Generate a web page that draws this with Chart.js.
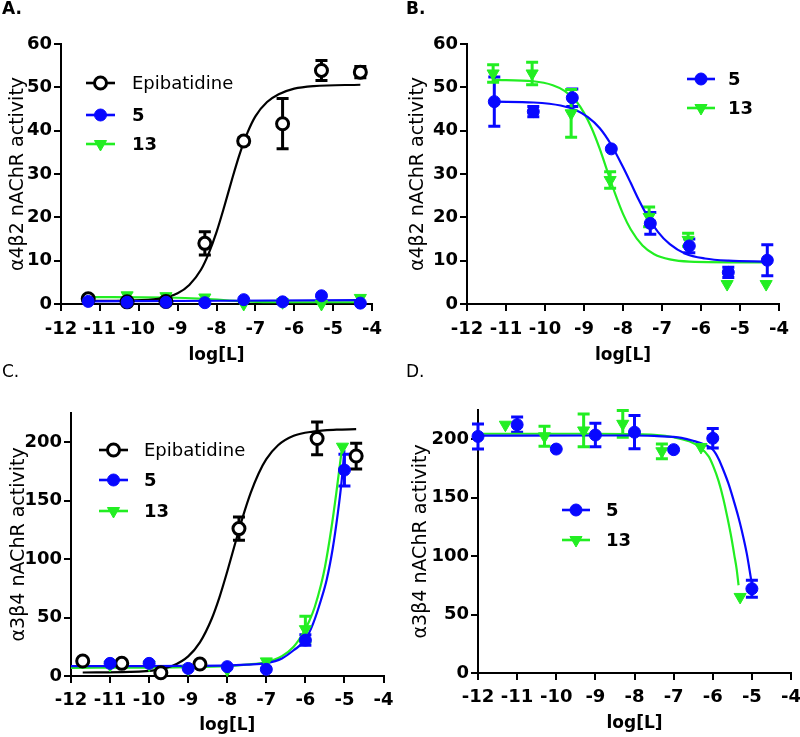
<!DOCTYPE html>
<html>
<head>
<meta charset="utf-8">
<script src="https://cdn.jsdelivr.net/npm/chart.js@4.4.1/dist/chart.umd.min.js"></script>
<style>
html,body{margin:0;padding:0;background:#fff;width:800px;height:737px;overflow:hidden;position:relative;}
canvas{position:absolute;}
</style>
</head>
<body>
<canvas id="cA"></canvas>
<canvas id="cB"></canvas>
<canvas id="cC"></canvas>
<canvas id="cD"></canvas>
<script>
// ---------------- data ----------------
const seriesNames = ['Epibatidine', '5', '13'];
const panelLetters = ['A.', 'B.', 'C.', 'D.'];
const xTickValues = [-12, -11, -10, -9, -8, -7, -6, -5, -4];
const yTitleA = 'α4β2 nAChR activity';
const yTitleC = 'α3β4 nAChR activity';
const xTitle = 'log[L]';

// Panel A (α4β2, agonist)
const A_x = [-11.3, -10.3, -9.3, -8.3, -7.3, -6.3, -5.3, -4.3];
const A_epi = [1.2, 0.5, 0.6, 14.0, 37.6, 41.6, 53.9, 53.5];
const A_epiErr = [0, 0, 0, 2.7, 0.8, 5.8, 2.3, 1.3];
const A_c5 = [0.6, 0.4, 0.4, 0.3, 1.0, 0.5, 1.9, 0.2];
const A_c5Err = [0, 0, 0, 0, 0, 0, 0, 0];
const A_c13 = [1.3, 2.0, 1.8, 1.5, 0.0, 0.4, 0.0, 1.4];
const A_c13Err = [0, 0, 0, 0, 0, 0, 0, 0];
const A_epiFitX = [-11.3, -10.3, -9.5, -9.0, -8.7, -8.4, -8.2, -8.0, -7.8, -7.6, -7.4, -7.2, -7.0, -6.7, -6.4, -6.0, -5.5, -4.3];
const A_epiFitY = [0.7, 0.8, 1.2, 2.5, 4.4, 7.9, 11.7, 16.6, 22.5, 28.8, 34.7, 39.6, 43.3, 46.6, 48.4, 49.7, 50.3, 50.6];
const A_c5FitX = [-11.3, -7.8, -4.3];
const A_c5FitY = [0.6, 0.75, 0.9];
const A_c13FitX = [-11.3, -9.3, -8.3, -7.3, -6.3, -4.3];
const A_c13FitY = [1.6, 1.5, 1.2, 0.6, 0.4, 0.4];

// Panel B (α4β2, antagonist)
const B_x5 = [-11.3, -10.3, -9.3, -8.3, -7.3, -6.3, -5.3, -4.3];
const B_c5 = [46.7, 44.4, 47.6, 35.8, 18.6, 13.4, 7.3, 10.1];
const B_c5Err = [5.7, 1.2, 2.0, 0, 2.5, 1.6, 1.2, 3.6];
const B_x13 = [-11.33, -10.33, -9.33, -8.33, -7.33, -6.33, -5.33, -4.33];
const B_c13 = [53.2, 53.2, 44.0, 28.6, 20.1, 14.8, 4.6, 4.6];
const B_c13Err = [2.0, 2.6, 5.5, 1.9, 2.3, 1.5, 0, 0];
const B_c5FitX = [-11.3, -10.3, -9.6, -9.2, -8.9, -8.6, -8.3, -8.0, -7.8, -7.6, -7.4, -7.1, -6.8, -6.4, -5.9, -5.3, -4.3];
const B_c5FitY = [46.7, 46.5, 45.8, 44.7, 43.1, 40.6, 36.7, 31.6, 27.9, 24.1, 20.7, 16.6, 13.8, 11.6, 10.5, 10.0, 9.8];
const B_c13FitX = [-11.3, -10.3, -9.8, -9.5, -9.2, -9.0, -8.8, -8.6, -8.4, -8.2, -8.0, -7.8, -7.5, -7.2, -6.8, -6.3, -4.3];
const B_c13FitY = [51.7, 51.4, 50.5, 49.2, 46.8, 44.1, 40.5, 35.9, 30.6, 25.4, 20.8, 17.2, 13.5, 11.5, 10.3, 9.8, 9.6];

// Panel C (α3β4, agonist)
const C_xEpi = [-11.7, -10.7, -9.7, -8.7, -7.7, -5.7, -4.7];
const C_epi = [12.8, 10.8, 2.8, 10.2, 126, 203, 188];
const C_epiErr = [0, 0, 0, 0, 10, 14, 11];
const C_x5 = [-11, -10, -9, -8, -7, -6, -5];
const C_c5 = [10.8, 10.8, 6.5, 8.0, 5.7, 30.7, 176];
const C_c5Err = [0, 0, 0, 0, 0, 4.5, 13.5];
const C_x13 = [-11, -10, -9, -8, -7, -6, -5.05];
const C_c13 = [9.5, 9.7, 6.2, 5.5, 12.5, 40, 196];
const C_c13Err = [0, 0, 0, 0, 0, 11, 0];
const C_epiFitX = [-11.7, -10.5, -9.8, -9.4, -9.0, -8.7, -8.4, -8.2, -8.0, -7.8, -7.6, -7.4, -7.2, -7.0, -6.7, -6.3, -5.8, -5.2, -4.7];
const C_epiFitY = [3.0, 3.5, 5.3, 8.7, 16.8, 28.7, 48.7, 67.2, 89.3, 113, 136.2, 156.5, 172.9, 185.3, 197.2, 205.3, 208.9, 210.5, 211];
const C_c5FitX = [-12, -10, -9, -8, -7.5, -7, -6.6, -6.3, -6.0, -5.8, -5.6, -5.45, -5.3, -5.17, -5.08, -5.0];
const C_c5FitY = [8.5, 8.5, 8.6, 9.0, 9.8, 11, 15, 22, 31, 45, 65, 83, 109, 139, 164, 193];
const C_c13FitX = [-12, -10, -9, -8, -7.5, -7, -6.6, -6.3, -6.06, -5.9, -5.76, -5.6, -5.5, -5.34, -5.21, -5.1, -5.05];
const C_c13FitY = [7, 7.2, 7.5, 8.5, 9.8, 12, 17, 25, 36.5, 47, 59, 78, 93, 125, 156, 185, 198];

// Panel D (α3β4, antagonist)
const D_x5 = [-12, -11, -10, -9, -8, -7, -6, -5];
const D_c5 = [202.2, 212.2, 191.4, 203.4, 205.8, 190.9, 200.6, 72];
const D_c5Err = [10.7, 6.5, 0, 10, 14.2, 0, 8.3, 7.3];
const D_x13 = [-11.3, -10.3, -9.3, -8.3, -7.3, -6.3, -5.3];
const D_c13 = [212.2, 202.3, 207.3, 213, 189.5, 193.2, 65];
const D_c13Err = [0, 8.5, 14, 11.4, 6.3, 0, 0];
const D_c5FitX = [-12, -9, -8, -7.5, -7, -6.8, -6.5, -6.2, -6.0, -5.85, -5.73, -5.6, -5.47, -5.35, -5.26, -5.13, -5.02];
const D_c5FitY = [202.8, 203.0, 203.0, 202.6, 201.8, 201, 198.5, 195, 191, 183, 173.5, 162, 148, 134, 122, 102, 80];
const D_c13FitX = [-12, -9, -8, -7.5, -7, -6.6, -6.33, -6.1, -5.99, -5.85, -5.73, -5.62, -5.52, -5.45, -5.39, -5.34];
const D_c13FitY = [204.5, 204.5, 204.2, 203.5, 201.5, 198, 193, 185, 177, 164, 149, 132, 115, 101, 89, 75];

// ---------------- styles ----------------
const FONT = "'DejaVu Sans', sans-serif";
const BLACK = '#000000';
const BLUE = '#0808ff';
const GREEN = '#22ee22';
const markers = {
  epi: {pointStyle: 'circle', radius: 6, bw: 3, fill: '#ffffff', stroke: BLACK, rotation: 0, color: BLACK},
  c5: {pointStyle: 'circle', radius: 6, bw: 1, fill: BLUE, stroke: BLUE, rotation: 0, color: BLUE},
  c13: {pointStyle: 'triangle', radius: 7, bw: 1, fill: GREEN, stroke: GREEN, rotation: 180, color: GREEN}
};

function pts(xs, ys) { return xs.map((x, i) => ({x: x, y: ys[i]})); }

function pointSet(name, key, xs, ys, errs) {
  const m = markers[key];
  return {
    label: name, data: pts(xs, ys), errors: errs, errColor: m.color,
    showLine: false, clip: false,
    pointStyle: m.pointStyle, pointRadius: m.radius, pointRotation: m.rotation,
    pointBackgroundColor: m.fill, pointBorderColor: m.stroke, pointBorderWidth: m.bw,
    backgroundColor: m.fill, borderColor: m.stroke
  };
}
function curveSet(name, key, xs, ys) {
  const m = markers[key];
  return {
    label: name + ' fit', data: pts(xs, ys), showLine: true, pointRadius: 0,
    borderColor: m.color, backgroundColor: m.color, borderWidth: 2.2,
    cubicInterpolationMode: 'monotone', fill: false, clip: false
  };
}

const errorBarPlugin = {
  id: 'errorBars',
  beforeDatasetsDraw(chart) {
    const ctx = chart.ctx, xs = chart.scales.x, ys = chart.scales.y;
    chart.data.datasets.forEach(ds => {
      if (!ds.errors) return;
      ctx.save();
      ctx.strokeStyle = ds.errColor;
      ctx.lineWidth = 3;
      ds.data.forEach((p, i) => {
        const e = ds.errors[i];
        if (!e) return;
        const px = xs.getPixelForValue(p.x);
        const y1 = ys.getPixelForValue(p.y + e);
        const y2 = ys.getPixelForValue(p.y - e);
        ctx.beginPath();
        ctx.moveTo(px, y1); ctx.lineTo(px, y2);
        ctx.moveTo(px - 6, y1); ctx.lineTo(px + 6, y1);
        ctx.moveTo(px - 6, y2); ctx.lineTo(px + 6, y2);
        ctx.stroke();
      });
      ctx.restore();
    });
  }
};

function legendPlugin(lg, letter) {
  return {
    id: 'panelLegend',
    afterDraw(chart) {
      const ctx = chart.ctx;
      // panel letter
      ctx.save();
      ctx.fillStyle = '#000';
      ctx.font = (letter.bold ? 'bold ' : '') + '17px ' + FONT;
      ctx.textBaseline = 'alphabetic';
      ctx.textAlign = 'left';
      ctx.fillText(letter.text, letter.x, letter.y);
      ctx.restore();
      lg.items.forEach((it, i) => {
        const m = markers[it.key];
        const yy = lg.ys[i];
        ctx.save();
        ctx.strokeStyle = m.color;
        ctx.lineWidth = 2.6;
        ctx.beginPath();
        ctx.moveTo(lg.x1, yy); ctx.lineTo(lg.x2, yy);
        ctx.stroke();
        ctx.fillStyle = m.fill;
        ctx.strokeStyle = m.stroke;
        ctx.lineWidth = m.bw;
        Chart.helpers.drawPoint(ctx, {pointStyle: m.pointStyle, radius: m.radius, rotation: m.rotation, borderWidth: m.bw}, (lg.x1 + lg.x2) / 2, yy);
        ctx.fillStyle = '#000';
        ctx.font = (it.bold ? 'bold ' : '') + '18px ' + FONT;
        ctx.textBaseline = 'middle';
        ctx.textAlign = 'left';
        ctx.fillText(it.name, lg.tx, yy + 1);
        ctx.restore();
      });
    }
  };
}

function makeChart(c) {
  const canvas = document.getElementById(c.id);
  canvas.width = c.w; canvas.height = c.h;
  canvas.style.left = c.left + 'px';
  canvas.style.top = c.top + 'px';
  const lg = {
    x1: c.legend.x1 - c.left, x2: c.legend.x2 - c.left, tx: c.legend.tx - c.left,
    ys: c.legend.ys.map(v => v - c.top), items: c.legend.items
  };
  const letter = {text: c.letter, bold: c.letterBold, x: c.letterX - c.left, y: c.letterY - c.top};
  return new Chart(canvas, {
    type: 'scatter',
    data: {datasets: c.datasets},
    options: {
      responsive: false, animation: false, devicePixelRatio: 1, events: [],
      layout: {padding: {left: 0, top: c.T - c.top, right: c.left + c.w - c.R, bottom: 0}},
      plugins: {legend: {display: false}, tooltip: {enabled: false}},
      scales: {
        x: {
          type: 'linear', position: 'bottom', min: xTickValues[0], max: xTickValues[xTickValues.length - 1],
          afterBuildTicks: s => { s.ticks = xTickValues.map(v => ({value: v})); },
          ticks: {color: '#000', padding: c.xTickPad, font: {family: FONT, size: 18, weight: 'bold'}, maxRotation: 0, autoSkip: false},
          grid: {drawOnChartArea: false, drawTicks: true, tickLength: 7, color: '#000', lineWidth: 2},
          border: {display: true, color: '#000', width: 2},
          title: {display: true, text: xTitle, color: '#000', font: {family: FONT, size: 17, weight: 'bold'}, padding: {top: 0, bottom: c.xTitlePad}},
          afterFit: s => { s.height = c.top + c.h - c.B; }
        },
        y: {
          type: 'linear', position: 'left', min: 0, max: c.ymax,
          ticks: {stepSize: c.ystep, includeBounds: false, color: '#000', padding: 2, font: {family: FONT, size: 18, weight: 'bold'}},
          grid: {drawOnChartArea: false, drawTicks: true, tickLength: 7, color: '#000', lineWidth: 2},
          border: {display: true, color: '#000', width: 2},
          title: {display: true, text: c.yTitle, color: '#000', font: {family: FONT, size: 19}, padding: {top: c.yTitlePad, bottom: 0}},
          afterFit: s => { s.width = c.L - c.left; }
        }
      }
    },
    plugins: [errorBarPlugin, legendPlugin(lg, letter)]
  });
}

const legend3 = [{name: seriesNames[0], key: 'epi', bold: false}, {name: seriesNames[1], key: 'c5', bold: true}, {name: seriesNames[2], key: 'c13', bold: true}];
const legend2 = [{name: seriesNames[1], key: 'c5', bold: true}, {name: seriesNames[2], key: 'c13', bold: true}];

makeChart({
  id: 'cA', left: 0, top: 0, w: 400, h: 368, L: 61, T: 44, R: 372, B: 304,
  letter: panelLetters[0], letterBold: true, letterX: 2, letterY: 14,
  ymax: 60, ystep: 10, yTitle: yTitleA, yTitlePad: 7, xTitlePad: 2, xTickPad: 7.5,
  legend: {x1: 86, x2: 115, tx: 132, ys: [83, 115, 144], items: legend3},
  datasets: [
    pointSet(seriesNames[1], 'c5', A_x, A_c5, A_c5Err),
    pointSet(seriesNames[0], 'epi', A_x, A_epi, A_epiErr),
    pointSet(seriesNames[2], 'c13', A_x, A_c13, A_c13Err),
    curveSet(seriesNames[1], 'c5', A_c5FitX, A_c5FitY),
    curveSet(seriesNames[0], 'epi', A_epiFitX, A_epiFitY),
    curveSet(seriesNames[2], 'c13', A_c13FitX, A_c13FitY)
  ]
});

makeChart({
  id: 'cB', left: 400, top: 0, w: 400, h: 368, L: 467, T: 44, R: 779, B: 304,
  letter: panelLetters[1], letterBold: true, letterX: 406, letterY: 14,
  ymax: 60, ystep: 10, yTitle: yTitleA, yTitlePad: 7, xTitlePad: 2, xTickPad: 7.5,
  legend: {x1: 687, x2: 715, tx: 728, ys: [79, 108], items: legend2},
  datasets: [
    pointSet(seriesNames[1], 'c5', B_x5, B_c5, B_c5Err),
    pointSet(seriesNames[2], 'c13', B_x13, B_c13, B_c13Err),
    curveSet(seriesNames[1], 'c5', B_c5FitX, B_c5FitY),
    curveSet(seriesNames[2], 'c13', B_c13FitX, B_c13FitY)
  ]
});

makeChart({
  id: 'cC', left: 0, top: 362, w: 400, h: 375, L: 71, T: 412.75, R: 384, B: 676,
  letter: panelLetters[2], letterBold: false, letterX: 2, letterY: 377,
  ymax: 225, ystep: 50, yTitle: yTitleC, yTitlePad: 7.5, xTitlePad: 1, xTickPad: 6.5,
  legend: {x1: 99, x2: 128, tx: 144, ys: [450, 480, 511], items: legend3},
  datasets: [
    pointSet(seriesNames[1], 'c5', C_x5, C_c5, C_c5Err),
    pointSet(seriesNames[0], 'epi', C_xEpi, C_epi, C_epiErr),
    pointSet(seriesNames[2], 'c13', C_x13, C_c13, C_c13Err),
    curveSet(seriesNames[1], 'c5', C_c5FitX, C_c5FitY),
    curveSet(seriesNames[0], 'epi', C_epiFitX, C_epiFitY),
    curveSet(seriesNames[2], 'c13', C_c13FitX, C_c13FitY)
  ]
});

makeChart({
  id: 'cD', left: 400, top: 362, w: 410, h: 375, L: 478, T: 409.75, R: 791, B: 673,
  letter: panelLetters[3], letterBold: false, letterX: 406, letterY: 377,
  ymax: 225, ystep: 50, yTitle: yTitleC, yTitlePad: 9.5, xTitlePad: 3, xTickPad: 6.5,
  legend: {x1: 562, x2: 590, tx: 606, ys: [510, 540], items: legend2},
  datasets: [
    pointSet(seriesNames[1], 'c5', D_x5, D_c5, D_c5Err),
    pointSet(seriesNames[2], 'c13', D_x13, D_c13, D_c13Err),
    curveSet(seriesNames[1], 'c5', D_c5FitX, D_c5FitY),
    curveSet(seriesNames[2], 'c13', D_c13FitX, D_c13FitY)
  ]
});
</script>
</body>
</html>
